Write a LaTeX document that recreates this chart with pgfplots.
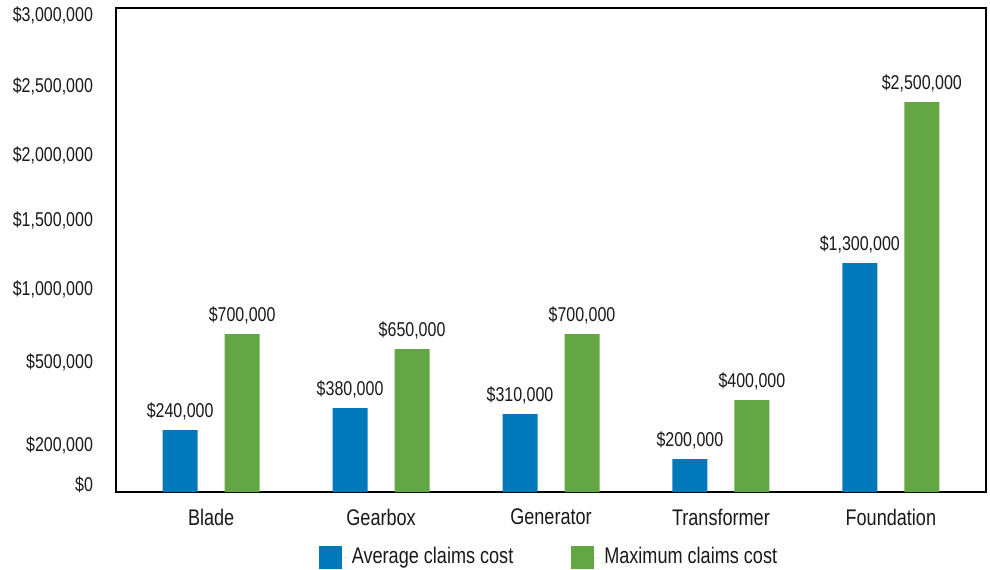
\documentclass[border=0pt]{standalone}
\usepackage{fontspec}
\setmainfont{Liberation Sans}[FakeStretch=0.8]
\usepackage{pgfplots}
\pgfplotsset{compat=1.18}
\definecolor{cblue}{RGB}{0,121,186}
\definecolor{cgreen}{RGB}{98,167,68}
\definecolor{txt}{RGB}{25,25,25}
\begin{document}
\begin{tikzpicture}[font=\fontsize{10}{12}\selectfont, text=txt]
\useasboundingbox (-58pt,-38.5pt) rectangle (437pt,246pt);
\begin{axis}[
  at={(0pt,0pt)}, anchor=south west,
  scale only axis, width=435pt, height=242pt,
  xmin=-0.56, xmax=4.56, ymin=0, ymax=484,
  axis line style={line width=1pt, black},
  ybar, bar width=17.5pt,
  xtick={0,1,2,3,4},
  xticklabels={Blade,Gearbox,Generator,Transformer,Foundation},
  ytick={7,47,130,203,272,337,406,477},
  yticklabels={{\$0},{\$200,000},{\$500,000},{\$1,000,000},{\$1,500,000},{\$2,000,000},{\$2,500,000},{\$3,000,000}},
  major tick length=0pt,
  xticklabel style={anchor=north, yshift=-5pt, font=\fontsize{11.3}{13}\selectfont},
  yticklabel style={anchor=east, xshift=-8pt, font=\fontsize{10}{12}\selectfont},
  nodes near coords,
  point meta=explicit symbolic,
  every node near coord/.append style={anchor=south, yshift=1.5pt, font=\fontsize{10}{12}\selectfont, text=txt},
  legend style={at={(0.5,0)}, anchor=center, xshift=-0.5pt, yshift=-32.5pt, draw=none, fill=none,
    legend columns=2, font=\fontsize{11.3}{13}\selectfont,
    /tikz/every even column/.append style={column sep=27pt}},
  legend image code/.code={\fill[#1] (0pt,-5.75pt) rectangle (11.5pt,5.75pt); \path (0pt,0pt) -- (14.5pt,0pt);},
]
\addplot[fill=cblue, draw=none, bar shift=-15.5pt] table[meta=label] {
x y label
0 62 {\$240,000}
1 84 {\$380,000}
2 78 {\$310,000}
3 33 {\$200,000}
4 229 {\$1,300,000}
};
\addplot[fill=cgreen, draw=none, bar shift=15.5pt] table[meta=label] {
x y label
0 158 {\$700,000}
1 143 {\$650,000}
2 158 {\$700,000}
3 92 {\$400,000}
4 390 {\$2,500,000}
};
\legend{Average claims cost, Maximum claims cost}
\end{axis}
\end{tikzpicture}
\end{document}
